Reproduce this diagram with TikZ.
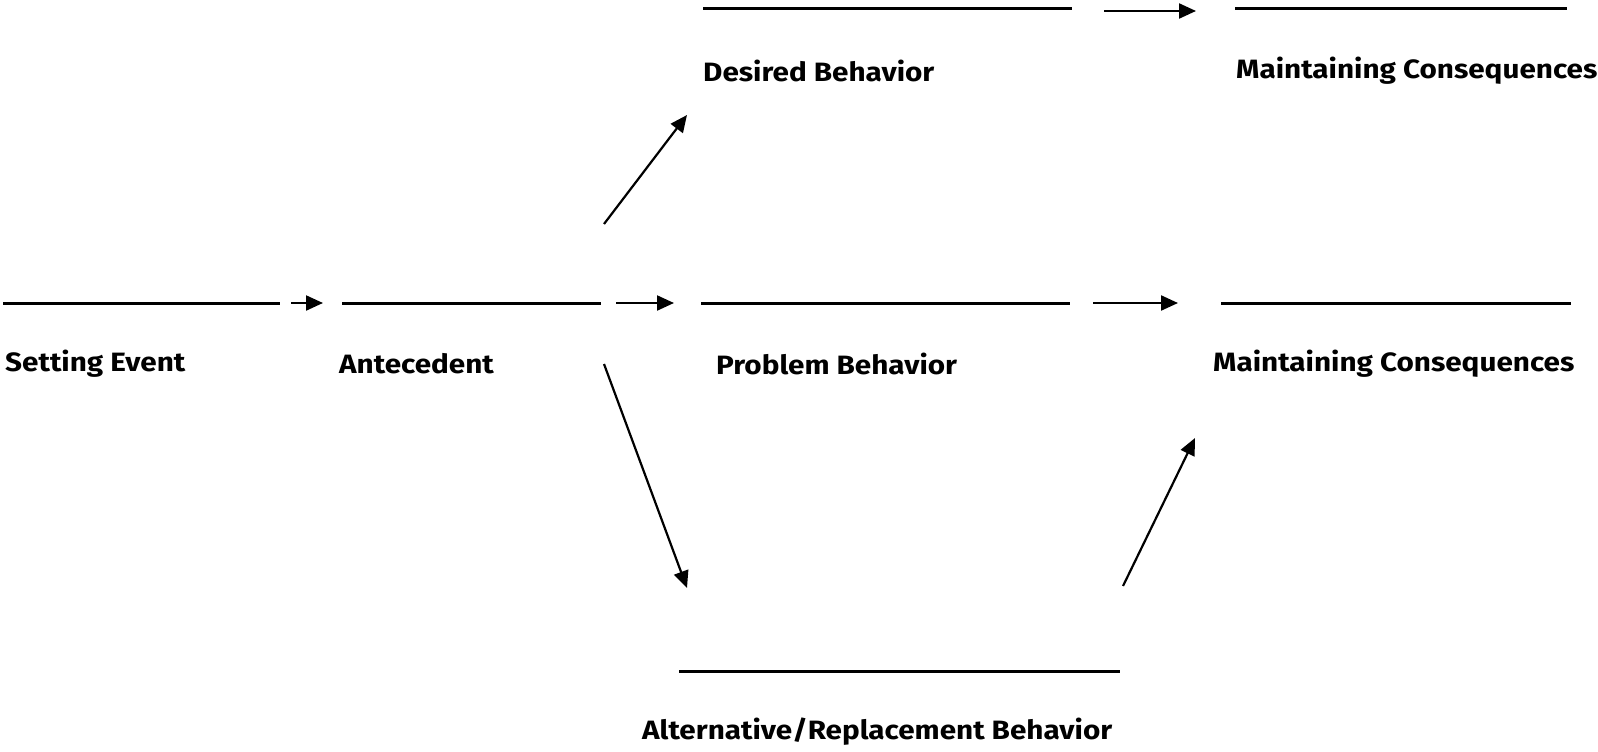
\documentclass[tikz,border=0pt]{standalone}
\usepackage{fontspec}
\setmainfont{Fira Sans}[FakeStretch=1.12]
\usetikzlibrary{arrows.meta}
\tikzset{
	blank/.style={line width=3pt},
	link/.style={-{Triangle[length=17pt,width=15pt]}, line width=2.2pt},
	lbl/.style={anchor=west, inner sep=0pt, font=\fontsize{26.5}{30}\selectfont\bfseries}
}
\begin{document}
\begin{tikzpicture}[x=1pt,y=-1pt]
		\useasboundingbox (0,0) rectangle (1598,752);
		
		% top row
		\draw[blank] (703,9) -- (1072,9);
		\draw[blank] (1235,9) -- (1567,9);
		\coordinate (dbR) at (1104,11);
		\coordinate (mc1L) at (1196,11);
		\draw[link] (dbR) -- (mc1L);
		\node[lbl] (desired) at (703,71) {Desired Behavior};
		\node[lbl] (maint1) at (1236,71) {Maintaining Consequences};
		
		% middle row
		\draw[blank] (3,303) -- (280,303);
		\draw[blank] (342,303) -- (601,303);
		\draw[blank] (701,303) -- (1070,303);
		\draw[blank] (1221,303) -- (1571,303);
		\coordinate (seR) at (291,303);
		\coordinate (anL) at (323,303);
		\coordinate (anR) at (616,303);
		\coordinate (pbL) at (674,303);
		\coordinate (pbR) at (1093,303);
		\coordinate (mc2L) at (1178,303);
		\draw[link] (seR) -- (anL);
		\draw[link] (anR) -- (pbL);
		\draw[link] (pbR) -- (mc2L);
		\node[lbl] (setting) at (5,364) {Setting Event};
		\node[lbl] (antec) at (339,364) {Antecedent};
		\node[lbl] (problem) at (716,364) {Problem Behavior};
		\node[lbl] (maint2) at (1213,364) {Maintaining Consequences};
		
		% branches
		\coordinate (upS) at (604,224);
		\coordinate (upE) at (687,115);
		\coordinate (dnS) at (604,364);
		\coordinate (dnE) at (687,588);
		\coordinate (alS) at (1123,586);
		\coordinate (alE) at (1195,438);
		\draw[link] (upS) -- (upE);
		\draw[link] (dnS) -- (dnE);
		\draw[link] (alS) -- (alE);
		
		% bottom
		\draw[blank] (679,671) -- (1120,671);
		\node[lbl] (altern) at (642,732) {Alternative/Replacement Behavior};
		
	\end{tikzpicture}
\end{document}
